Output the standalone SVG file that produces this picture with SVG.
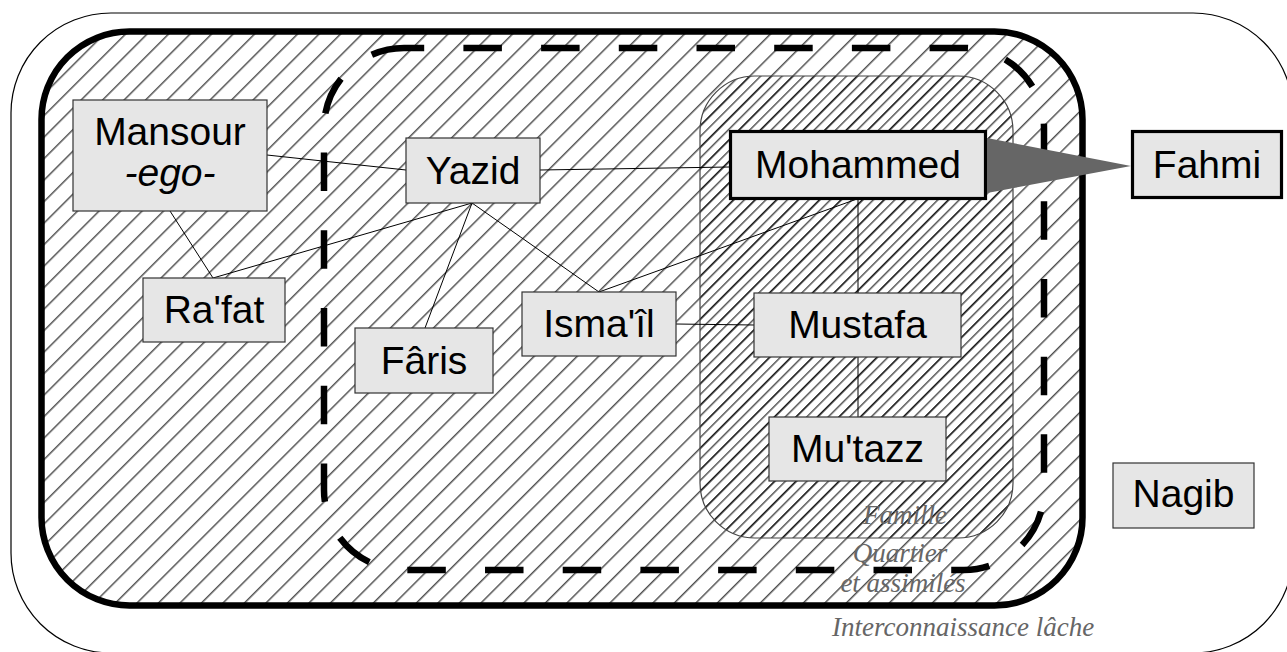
<svg xmlns="http://www.w3.org/2000/svg" width="1287" height="652" viewBox="0 0 1287 652">
<defs>
<style>
.node rect{fill:#e6e6e6;stroke:#333;stroke-width:1.2}
.node.bold rect{stroke:#000;stroke-width:3.2}
.node text{font-family:"Liberation Sans",Arial,sans-serif;font-size:39px;fill:#000;text-anchor:middle}
#connectors line{stroke:#000;stroke-width:1}
.lbl{font-family:"Liberation Serif","Times New Roman",serif;font-style:italic;font-size:27px;fill:#666}
</style>
<pattern id="hatch" patternUnits="userSpaceOnUse" width="15.2" height="15.2" patternTransform="rotate(45)">
<line x1="6.5" y1="-1" x2="6.5" y2="16.2" stroke="#000" stroke-width="1"/>
</pattern>
<pattern id="hatch2" patternUnits="userSpaceOnUse" width="7.6" height="7.6" patternTransform="rotate(45)">
<line x1="6.5" y1="-1" x2="6.5" y2="8.6" stroke="#000" stroke-width="1"/>
</pattern>
</defs>
<rect width="1287" height="652" fill="#fff"/>
<g id="zones">
<rect id="interconnaissance" x="11" y="13" width="1282" height="640" rx="100" ry="100" fill="#fff" stroke="#000" stroke-width="1.2"/>
<rect id="reseau" x="41.5" y="31.5" width="1041" height="574" rx="88" ry="88" fill="url(#hatch)" stroke="#000" stroke-width="6.5"/>
<rect id="famille" x="700" y="76" width="313" height="462" rx="55" ry="55" fill="url(#hatch2)" stroke="#444" stroke-width="1.2"/>
<path id="quartier" d="M404,48 H964 A80,80 0 0 1 1044,128 V490 A80,80 0 0 1 964,570 H404 A80,80 0 0 1 324,490 V128 A80,80 0 0 1 404,48 Z" fill="none" stroke="#000" stroke-width="6.5" stroke-dasharray="38.5 39.2" stroke-dashoffset="18.3"/>
</g>
<g id="connectors">
<line x1="267" y1="155" x2="406" y2="170"/>
<line x1="170" y1="211" x2="213" y2="278"/>
<line x1="213" y1="278" x2="472" y2="203"/>
<line x1="472" y1="203" x2="425" y2="328"/>
<line x1="472" y1="203" x2="599" y2="292"/>
<line x1="540" y1="170" x2="729" y2="167"/>
<line x1="857" y1="199" x2="599" y2="292"/>
<line x1="858" y1="199" x2="858" y2="293"/>
<line x1="676" y1="324" x2="754" y2="325"/>
<line x1="858" y1="357" x2="858" y2="417"/>
</g>
<g id="mansour" class="node"><rect x="73" y="100" width="194" height="111"/><text x="170" y="145">Mansour</text><text x="170" y="186" font-style="italic">-ego-</text></g>
<g id="yazid" class="node"><rect x="406" y="138" width="134" height="65"/><text x="473" y="184">Yazid</text></g>
<g id="rafat" class="node"><rect x="143" y="278" width="142" height="64"/><text x="214" y="323">Ra'fat</text></g>
<g id="faris" class="node"><rect x="355" y="328" width="138" height="65"/><text x="424" y="374">Fâris</text></g>
<g id="ismail" class="node"><rect x="522" y="292" width="154" height="64"/><text x="599" y="337">Isma'îl</text></g>
<g id="mustafa" class="node"><rect x="754" y="293" width="207" height="64"/><text x="857.5" y="338">Mustafa</text></g>
<g id="mutazz" class="node"><rect x="769" y="417" width="177" height="64"/><text x="857.5" y="462">Mu'tazz</text></g>
<g id="nagib" class="node"><rect x="1113" y="463" width="141" height="65"/><text x="1183.5" y="507">Nagib</text></g>
<g id="mohammed" class="node bold"><rect x="730.5" y="131.5" width="255" height="67"/><text x="858" y="178">Mohammed</text></g>
<g id="fahmi" class="node bold"><rect x="1132.5" y="131.5" width="149" height="66"/><text x="1207" y="178">Fahmi</text></g>
<g id="arrow"><polygon points="987,138 1131,166 987,193" fill="#666"/></g>
<g id="labels">
<text class="lbl" x="905" y="524" text-anchor="middle">Famille</text>
<text class="lbl" x="900" y="562" text-anchor="middle">Quartier</text>
<text class="lbl" x="903" y="592" text-anchor="middle">et assimilés</text>
<text class="lbl" x="832" y="636">Interconnaissance lâche</text>
</g>
</svg>
